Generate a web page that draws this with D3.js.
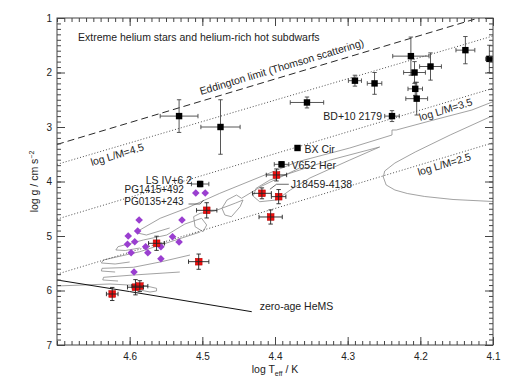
<!DOCTYPE html>
<html><head><meta charset="utf-8">
<script src="https://cdn.jsdelivr.net/npm/d3@7"></script>
<style>body{margin:0;background:#fff}text{font-family:"Liberation Sans",Arial,sans-serif;fill:#222}</style>
</head><body>
<svg id="c" width="509" height="382"></svg>
<script>
// ---------- data ----------
// [logTeff, logg, err logTeff, err logg]
const blackStars = [
  [4.532,2.80,0.026,0.30],[4.475,3.00,0.027,0.50],[4.356,2.55,0.023,0.10],
  [4.290,2.15,0.009,0.10],[4.263,2.20,0.010,0.20],[4.213,1.70,0.025,0.35],
  [4.208,2.00,0.015,0.20],[4.186,1.89,0.015,0.25],[4.207,2.30,0.010,0.12],
  [4.205,2.48,0.015,0.30],[4.138,1.59,0.013,0.25],[4.105,1.75,0.005,0.25],
  [4.239,2.80,0.010,0.10],[4.369,3.385,0,0],[4.391,3.685,0.010,0.05],
  [4.503,4.046,0.012,0.05]
];
const redStars = [
  [4.398,3.88,0.014,0.11],[4.418,4.217,0.013,0.10],[4.395,4.278,0.010,0.13],
  [4.494,4.529,0.014,0.14],[4.406,4.651,0.016,0.13],[4.505,5.471,0.014,0.14],
  [4.563,5.134,0.011,0.13],[4.592,5.94,0.011,0.14],[4.586,5.92,0.011,0.10],
  [4.624,6.064,0.008,0.12]
];
const purpleStars = [
  [4.587,4.706],[4.589,4.908],[4.602,5.00],[4.593,5.105],[4.603,5.152],
  [4.598,5.306],[4.578,5.196],[4.575,5.306],[4.557,5.196],[4.557,5.417],
  [4.594,5.661],[4.541,5.013],[4.532,5.11],[4.528,4.706],[4.509,4.211],[4.496,4.211]
];
const eddingtonLine = [[4.70,3.32],[4.10,0.92]];
const lm45Line = [[4.70,3.685],[4.10,1.33]];
const lm35Line = [[4.70,4.69],[4.10,2.29]];
const lm25Line = [[4.70,5.70],[4.10,3.29]];
const zamsHe = [[4.70,5.807],[4.60,6.02],[4.432,6.389]];
const trackC = [[4.100,2.789],[4.159,3.147],[4.207,3.459],[4.235,3.661],[4.249,3.807],[4.251,3.917],
  [4.247,4.064],[4.235,4.156],[4.218,4.220],[4.194,4.275],[4.155,4.330],[4.100,4.367]];
const trackA = [[4.100,2.536],[4.129,2.688],[4.187,2.890],[4.233,3.055],[4.239,3.055],[4.239,3.147],
  [4.297,3.385],[4.370,3.642],[4.476,4.217],[4.521,4.486],[4.558,4.675],[4.586,4.890],
  [4.589,4.945],[4.577,4.982],[4.545,4.853]];
const trackB = [[4.256,3.367],[4.324,3.606],[4.366,3.789],[4.407,3.972],[4.426,4.125],[4.430,4.27],
  [4.421,4.371],[4.398,4.339],[4.379,4.156],[4.352,3.936],[4.297,3.606],[4.256,3.367]];
const trackD = [[4.366,3.752],[4.418,4.083],[4.446,4.308],[4.453,4.248],[4.466,4.339],[4.473,4.492],
  [4.469,4.615],[4.460,4.646],[4.448,4.462],[4.444,4.339],[4.454,4.394],[4.483,4.541],
  [4.503,4.583],[4.512,4.646],[4.510,4.829],[4.499,4.921],[4.494,4.798],[4.501,4.675],
  [4.524,4.780],[4.549,4.982],[4.581,5.073],[4.616,5.196],[4.619,5.257],[4.606,5.266],[4.586,5.220]];
const trackE = [[4.503,4.927],[4.545,5.11],[4.586,5.288],[4.636,5.440],[4.639,5.495],[4.620,5.514],[4.600,5.477]];
const trackF = [[4.517,5.349],[4.558,5.477],[4.595,5.574],[4.638,5.593],[4.639,5.642],[4.620,5.661]];
const trackG = [[4.531,5.661],[4.595,5.716],[4.636,5.758],[4.637,5.807],[4.616,5.826]];
const trackH = [[4.700,5.917],[4.627,5.881],[4.577,5.917],[4.563,5.960],[4.563,6.009],[4.572,6.028],[4.586,5.991]];
const leaderPG0135 = [[4.519,4.413],[4.503,4.413],[4.498,4.339]];
const leaderJ18459 = [[4.407,4.143],[4.398,4.051],[4.381,4.051]];
const xTickValues = [4.6,4.5,4.4,4.3,4.2,4.1];
const xTickLabels = ["4.6","4.5","4.4","4.3","4.2","4.1"];
const yTickValues = [1,2,3,4,5,6,7];
const yTickLabels = ["1","2","3","4","5","6","7"];

// ---------- drawing ----------
const svg = d3.select("#c");
const x = d3.scaleLinear().domain([4.7,4.1]).range([57,493]);
const y = d3.scaleLinear().domain([1,7]).range([18,345]);
const X0=57,X1=493,Y0=18,Y1=345;

svg.append("defs").append("clipPath").attr("id","clip")
  .append("rect").attr("x",X0).attr("y",Y0).attr("width",X1-X0).attr("height",Y1-Y0);
const plot = svg.append("g").attr("clip-path","url(#clip)");
const line = d3.line().x(d=>x(d[0])).y(d=>y(d[1]));

[trackC,trackA,trackB,trackD,trackE,trackF,trackG,trackH].forEach(t=>{
  plot.append("path").attr("d",line(t)).attr("fill","none").attr("stroke","#8a8a8a").attr("stroke-width",0.8);
});
plot.append("path").attr("d",line(eddingtonLine)).attr("fill","none").attr("stroke","#111").attr("stroke-width",0.9).attr("stroke-dasharray","7,4");
[lm45Line,lm35Line,lm25Line].forEach(l=>{
  plot.append("path").attr("d",line(l)).attr("fill","none").attr("stroke","#222").attr("stroke-width",0.8).attr("stroke-dasharray","1,2");
});
plot.append("path").attr("d",line(zamsHe)).attr("fill","none").attr("stroke","#111").attr("stroke-width",1);
[leaderPG0135,leaderJ18459].forEach(l=>{
  plot.append("path").attr("d",line(l)).attr("fill","none").attr("stroke","#444").attr("stroke-width",0.8);
});

function errBars(g,data){
  data.forEach(d=>{
    const cx=x(d[0]),cy=y(d[1]);
    if(d[2]>0){
      const xa=x(d[0]+d[2]),xb=x(d[0]-d[2]);
      g.append("line").attr("x1",xa).attr("x2",xb).attr("y1",cy).attr("y2",cy);
      g.append("line").attr("x1",xa).attr("x2",xa).attr("y1",cy-2.2).attr("y2",cy+2.2);
      g.append("line").attr("x1",xb).attr("x2",xb).attr("y1",cy-2.2).attr("y2",cy+2.2);
    }
    if(d[3]>0){
      const ya=y(d[1]-d[3]),yb=y(d[1]+d[3]);
      g.append("line").attr("x1",cx).attr("x2",cx).attr("y1",ya).attr("y2",yb);
      g.append("line").attr("x1",cx-2.2).attr("x2",cx+2.2).attr("y1",ya).attr("y2",ya);
      g.append("line").attr("x1",cx-2.2).attr("x2",cx+2.2).attr("y1",yb).attr("y2",yb);
    }
  });
}
plot.append("g").selectAll("path").data(purpleStars).join("path")
  .attr("d",d=>{const cx=x(d[0]),cy=y(d[1]),r=3.8;return `M${cx},${cy-r}L${cx+r},${cy}L${cx},${cy+r}L${cx-r},${cy}Z`;})
  .attr("fill","#9a3fd0");
const gb = plot.append("g").attr("stroke","#444").attr("stroke-width",0.9);
errBars(gb,blackStars);
plot.append("g").selectAll("rect").data(blackStars).join("rect")
  .attr("x",d=>x(d[0])-3.2).attr("y",d=>y(d[1])-3.2).attr("width",6.4).attr("height",6.4).attr("fill","#000");
plot.append("g").selectAll("rect").data(redStars).join("rect")
  .attr("x",d=>x(d[0])-3.4).attr("y",d=>y(d[1])-3.4).attr("width",6.8).attr("height",6.8)
  .attr("fill","#f01010").attr("stroke","#b00000").attr("stroke-width",0.5);
const gr = plot.append("g").attr("stroke","#222").attr("stroke-width",0.9);
errBars(gr,redStars);

function ax(gen,tr,vals,size,labels){
  const a = gen.tickValues(vals).tickSize(size).tickPadding(labels?5:0).tickFormat((d,i)=>labels?labels[i]:"");
  const g = svg.append("g").attr("transform",tr).call(a);
  g.select(".domain").remove();
  g.selectAll("line").attr("stroke","#444");
  g.selectAll("text").attr("font-size",10).attr("fill","#333").style("font-family","'Liberation Sans',Arial,sans-serif");
  return g;
}
const xMinor = d3.range(0,61).map(i=>+(4.1+i*0.01).toFixed(2));
const yMinor = d3.range(0,61).map(i=>+(1+i*0.1).toFixed(1));
ax(d3.axisBottom(x),`translate(0,${Y1})`,xMinor,-4,null);
const xb = ax(d3.axisBottom(x),`translate(0,${Y1})`,xTickValues,-8,xTickLabels);
xb.selectAll("text").attr("y",8);
ax(d3.axisTop(x),`translate(0,${Y0})`,xMinor,-4,null);
ax(d3.axisTop(x),`translate(0,${Y0})`,xTickValues,-8,null);
ax(d3.axisLeft(y),`translate(${X0},0)`,yMinor,-4,null);
ax(d3.axisLeft(y),`translate(${X0},0)`,yTickValues,-8,yTickLabels);
ax(d3.axisRight(y),`translate(${X1},0)`,yMinor,-4,null);
ax(d3.axisRight(y),`translate(${X1},0)`,yTickValues,-8,null);
svg.append("rect").attr("x",X0).attr("y",Y0).attr("width",X1-X0).attr("height",Y1-Y0)
  .attr("fill","none").attr("stroke","#444").attr("stroke-width",1);

const xt = svg.append("text").attr("x",(X0+X1)/2).attr("y",373).attr("text-anchor","middle").attr("font-size",10.5);
xt.append("tspan").text("log T");
xt.append("tspan").attr("font-size",7).attr("dy",2.5).text("eff");
xt.append("tspan").attr("dy",-2.5).text(" / K");
const yt = svg.append("text").attr("transform",`translate(38,${(Y0+Y1)/2}) rotate(-90)`).attr("text-anchor","middle").attr("font-size",10.5);
yt.append("tspan").text("log g / cm s");
yt.append("tspan").attr("font-size",7).attr("dy",-4).text("−2");

const fs = 10.5;
const ang = Math.atan2(y(lm35Line[1][1])-y(lm35Line[0][1]), x(lm35Line[1][0])-x(lm35Line[0][0]))*180/Math.PI;
function rotText(t,lt,lg){
  svg.append("text").attr("transform",`translate(${x(lt)},${y(lg)}) rotate(${ang})`).attr("font-size",fs).text(t);
}
rotText("Eddington limit (Thomson scattering)",4.502,2.413);
rotText("log L/M=4.5",4.652,3.716);
rotText("log L/M=3.5",4.200,2.890);
rotText("log L/M=2.5",4.202,3.893);

svg.append("text").attr("x",78).attr("y",40.5).attr("font-size",fs).text("Extreme helium stars and helium-rich hot subdwarfs");
function lab(t,lt,lg,dx,dy,anchor,size){
  svg.append("text").attr("x",x(lt)+dx).attr("y",y(lg)+dy).attr("text-anchor",anchor).attr("font-size",size||fs).text(t);
}
lab("BD+10 2179",4.239,2.80,-10,4,"end");
lab("BX Cir",4.369,3.385,7,5,"start");
lab("V652 Her",4.391,3.685,10,5,"start");
lab("J18459-4138",4.381,4.051,2,4,"start");
lab("LS IV+6 2",4.503,4.046,-8,-0.5,"end");
lab("PG1415+492",4.509,4.211,-12,0.5,"end",10);
lab("PG0135+243",4.519,4.413,-5,1,"end",10);
lab("zero-age HeMS",4.432,6.389,8,-2,"start");
</script>
</body></html>
